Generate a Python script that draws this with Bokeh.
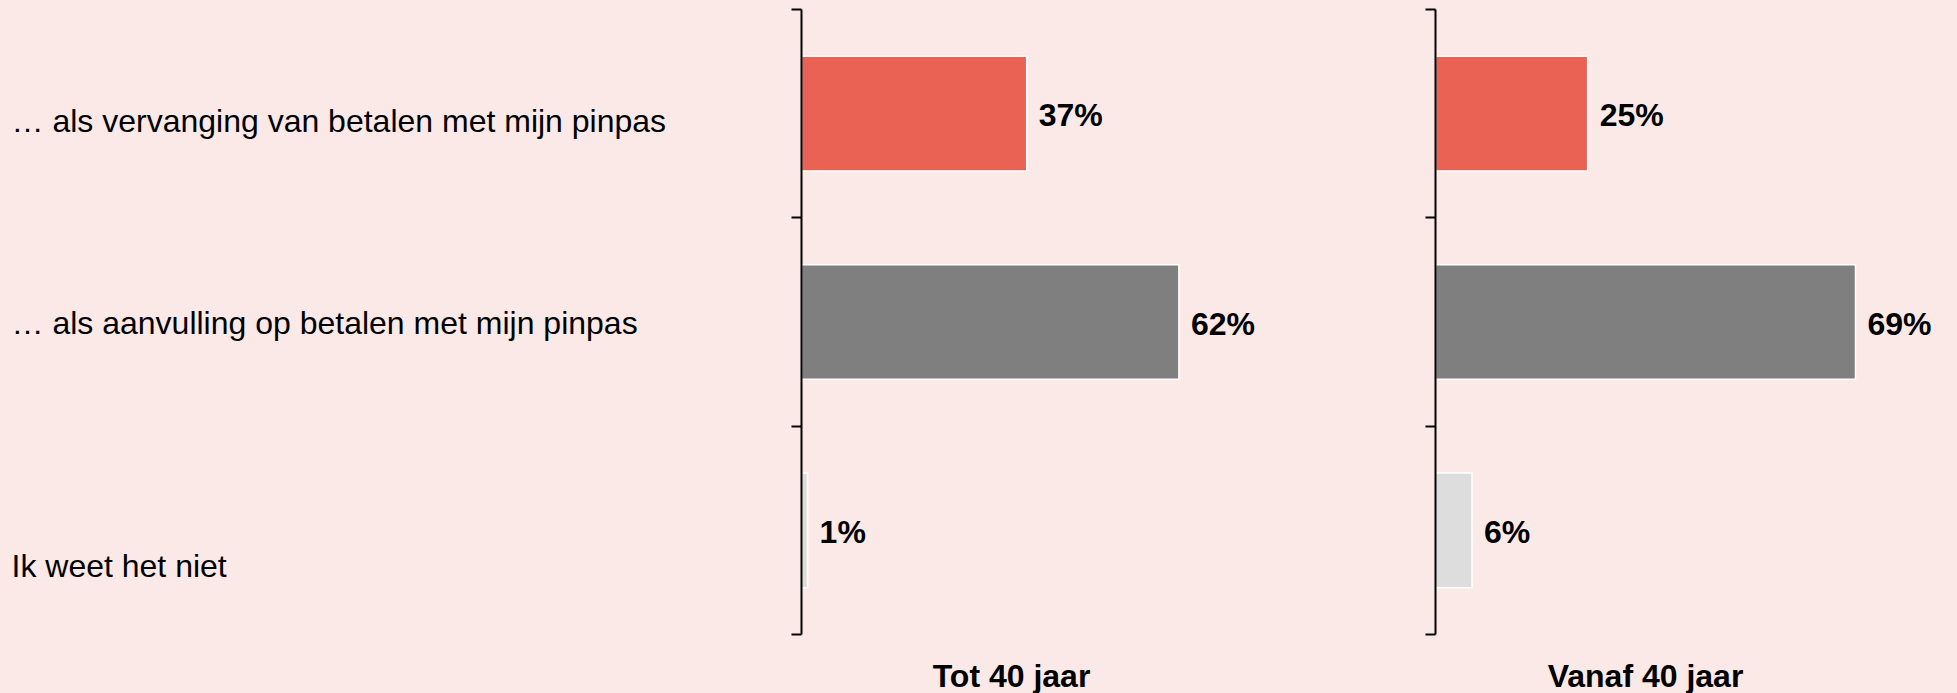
from bokeh.plotting import figure
from bokeh.layouts import row
from bokeh.models import ColumnDataSource, FixedTicker, LabelSet, Range1d
from bokeh.core.properties import value
from bokeh.embed import file_html
from bokeh.resources import INLINE

# ---------------- data ----------------
categories = [
    "\u2026 als vervanging van betalen met mijn pinpas",
    "\u2026 als aanvulling op betalen met mijn pinpas",
    "Ik weet het niet",
]
panel_titles = ["Tot 40 jaar", "Vanaf 40 jaar"]
values_tot40 = [37, 62, 1]
values_vanaf40 = [25, 69, 6]
bar_colors = ["#E96253", "#7F7F7F", "#DDDDDD"]

# ---------------- layout / style ----------------
BG = "#FBE9E7"
FONT = "Liberation Sans"
FS = "24pt"
H = 693
TOP = 9              # frame top (px)
AXIS_BOTTOM = 634    # pixel where the category axis ends
TITLE_BASE = 686.5   # baseline of the panel titles (px)
PANEL_MAX = 69       # nominal x extent of each panel (%)
PANEL_PX = 420       # nominal panel width (px)
label_shift = [-18, -12, -47]   # vertical shift of category labels (px)

n = len(categories)
ypos = [i + 0.5 for i in range(n)]
px_per_unit = (AXIS_BOTTOM - TOP) / n
y_bottom = (H - TOP) / px_per_unit
title_y = (TITLE_BASE - TOP) / px_per_unit


def style(p):
    p.background_fill_color = BG
    p.background_fill_alpha = 0
    p.border_fill_color = BG
    p.outline_line_color = None
    p.xgrid.grid_line_color = None
    p.ygrid.grid_line_color = None


# label column
LAB_W = 761
lab = figure(width=LAB_W, height=H, x_range=Range1d(0, 1), y_range=Range1d(y_bottom, 0),
             x_axis_location=None, y_axis_location=None, toolbar_location=None,
             output_backend="svg", min_border_left=0, min_border_right=0,
             min_border_top=TOP, min_border_bottom=0)
style(lab)
lab_src = ColumnDataSource(dict(x=[0] * n, y=ypos, text=categories, dy=label_shift))
lab.add_layout(LabelSet(x="x", y="y", text="text", source=lab_src, x_offset=11,
                        y_offset="dy", text_baseline="alphabetic", text_align="left",
                        text_font=value(FONT), text_font_size=FS, text_color="#000000"))


def panel(vals, title, width):
    frame_w = width - 40
    xmax = PANEL_MAX * frame_w / PANEL_PX
    p = figure(width=width, height=H, x_range=Range1d(0, xmax), y_range=Range1d(y_bottom, 0),
               x_axis_location=None, toolbar_location=None, output_backend="svg",
               min_border_left=40, min_border_right=0,
               min_border_top=TOP, min_border_bottom=0)
    style(p)
    src = ColumnDataSource(dict(y=ypos, v=vals, c=bar_colors,
                                t=[f"{v}%" for v in vals]))
    p.hbar(y="y", left=0, right="v", height=0.55, fill_color="c",
           line_color="#FFFFFF", line_width=1.5, source=src)
    p.add_layout(LabelSet(x="v", y="y", text="t", source=src, x_offset=12,
                          y_offset=-12.5, text_baseline="alphabetic",
                          text_font=value(FONT), text_font_size=FS,
                          text_font_style="bold", text_color="#000000"))
    tsrc = ColumnDataSource(dict(x=[PANEL_MAX / 2], y=[title_y], t=[title]))
    p.add_layout(LabelSet(x="x", y="y", text="t", source=tsrc, text_align="center",
                          text_baseline="alphabetic",
                          text_font=value(FONT), text_font_size=FS,
                          text_font_style="bold", text_color="#000000"))
    ax = p.yaxis[0]
    ax.bounds = (0, n)
    ax.ticker = FixedTicker(ticks=list(range(n + 1)))
    ax.major_label_overrides = {i: "" for i in range(n + 1)}
    ax.major_label_text_font_size = "0px"
    ax.minor_tick_line_color = None
    ax.axis_line_width = 2
    ax.axis_line_color = "#000000"
    ax.major_tick_line_width = 2
    ax.major_tick_line_color = "#000000"
    ax.major_tick_out = 10
    ax.major_tick_in = 0
    return p


p1 = panel(values_tot40, panel_titles[0], 634)
p2 = panel(values_vanaf40, panel_titles[1], 1957 - LAB_W - 634)

p = row(lab, p1, p2, spacing=0, styles={"background-color": BG})

open("out.html", "w").write(file_html(p, INLINE))
